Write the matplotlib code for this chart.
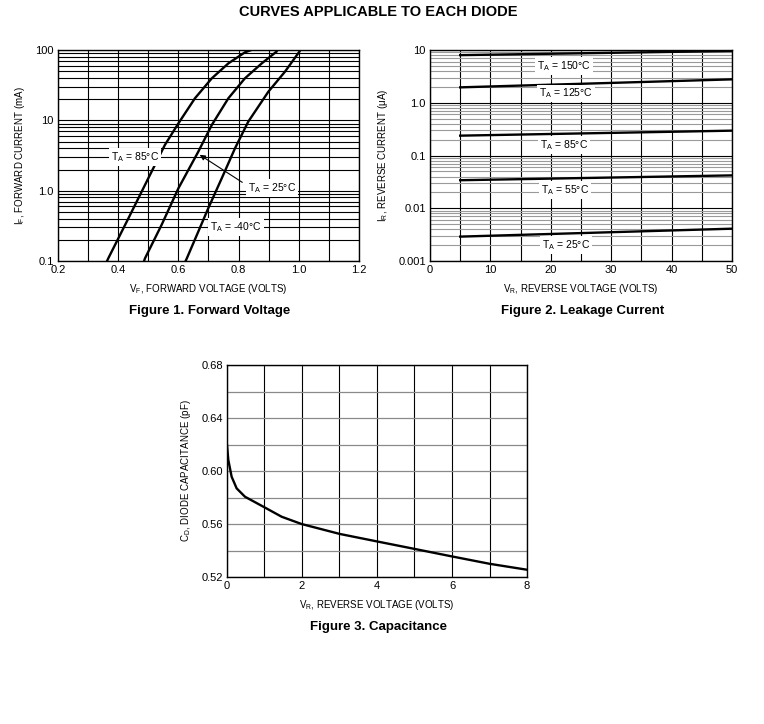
import numpy as np
import matplotlib
matplotlib.use("Agg")
import matplotlib.pyplot as plt
from matplotlib.ticker import LogLocator, NullFormatter, FixedLocator

plt.rcParams["font.family"] = ["Liberation Sans", "DejaVu Sans"]
plt.rcParams["mathtext.default"] = "regular"

# -----------------------------
# Figure 1 data: forward voltage (V) vs forward current (mA)
# -----------------------------
vf_85 = [0.363, 0.367, 0.434, 0.500, 0.555, 0.600, 0.655, 0.711, 0.766, 0.821, 0.842]
if_85 = [0.1, 0.109, 0.405, 1.50, 4.46, 9.06, 20.6, 39.6, 64.6, 92.7, 100.0]

vf_25 = [0.486, 0.489, 0.544, 0.600, 0.666, 0.711, 0.766, 0.821, 0.877, 0.926]
if_25 = [0.1, 0.109, 0.325, 1.08, 3.58, 8.6, 20.6, 39.6, 64.6, 95.0]

vf_m40 = [0.624, 0.628, 0.666, 0.699, 0.744, 0.788, 0.832, 0.899, 0.954, 1.002]
if_m40 = [0.1, 0.109, 0.261, 0.56, 1.50, 4.0, 9.57, 25.6, 49.2, 95.0]

# -----------------------------
# Figure 2 data: reverse voltage (V) vs reverse current (uA)
# -----------------------------
vr_leak = [5, 50]
ir_150 = [8.0, 9.6]
ir_125 = [1.96, 2.78]
ir_85 = [0.238, 0.296]
ir_55 = [0.034, 0.042]
ir_25 = [0.0029, 0.0041]

# -----------------------------
# Figure 3 data: reverse voltage (V) vs capacitance (pF)
# -----------------------------
vr_cap = [0.0, 0.036, 0.124, 0.258, 0.48, 0.968, 1.458, 1.99, 3.01, 4.03, 4.97, 5.99, 7.0, 8.0]
cd_cap = [0.6196, 0.6083, 0.5957, 0.5869, 0.5806, 0.5731, 0.5655, 0.560, 0.5525,
          0.5467, 0.5414, 0.5356, 0.530, 0.5255]

TICK_FS = 8
LAB_FS = 7.0
BOX_FS = 7.5
CAP_FS = 9.5
LW = 1.7

fig = plt.figure(figsize=(7.64, 7.24), dpi=100)

fig.text(0.495, 0.983, "CURVES APPLICABLE TO EACH DIODE", ha="center", va="center",
         fontsize=10.5, fontweight="bold")


def style_axes(ax):
    for s in ax.spines.values():
        s.set_linewidth(1.0)
        s.set_color("black")
    ax.tick_params(which="both", length=0, labelsize=TICK_FS, pad=3)
    ax.set_axisbelow(True)


label_box = dict(fc="white", ec="none", pad=1.5)

# -----------------------------
# Figure 1
# -----------------------------
ax1 = fig.add_axes([0.0759, 0.6395, 0.394, 0.2914])
ax1.set_yscale("log")
ax1.set_xlim(0.2, 1.2)
ax1.set_ylim(0.1, 100)
ax1.xaxis.set_major_locator(FixedLocator([0.2, 0.4, 0.6, 0.8, 1.0, 1.2]))
ax1.xaxis.set_minor_locator(FixedLocator([0.3, 0.5, 0.7, 0.9, 1.1]))
ax1.yaxis.set_major_locator(FixedLocator([0.1, 1, 10, 100]))
ax1.yaxis.set_minor_locator(LogLocator(base=10, subs=np.arange(2, 10)))
ax1.yaxis.set_minor_formatter(NullFormatter())
ax1.set_yticklabels(["0.1", "1.0", "10", "100"])
ax1.set_xticklabels(["0.2", "0.4", "0.6", "0.8", "1.0", "1.2"])
ax1.grid(which="both", color="black", linewidth=0.8)
style_axes(ax1)

ax1.plot(vf_85, if_85, color="black", lw=LW)
ax1.plot(vf_25, if_25, color="black", lw=LW)
ax1.plot(vf_m40, if_m40, color="black", lw=LW)

ax1.text(0.456, 3.0, r"T$_A$ = 85°C", fontsize=BOX_FS, ha="center", va="center", bbox=label_box)
ax1.text(0.911, 1.1, r"T$_A$ = 25°C", fontsize=BOX_FS, ha="center", va="center", bbox=label_box)
ax1.text(0.791, 0.3, r"T$_A$ = -40°C", fontsize=BOX_FS, ha="center", va="center", bbox=label_box)
ax1.annotate("", xy=(0.663, 3.4), xytext=(0.82, 1.25),
             arrowprops=dict(arrowstyle="-|>", color="black", lw=0.8, mutation_scale=8))

ax1.set_xlabel(r"V$_F$, FORWARD VOLTAGE (VOLTS)", fontsize=LAB_FS, labelpad=5)
ax1.set_ylabel(r"I$_F$, FORWARD CURRENT (mA)", fontsize=LAB_FS, labelpad=6)
fig.text(0.275, 0.570, "Figure 1. Forward Voltage", ha="center", va="center",
         fontsize=CAP_FS, fontweight="bold")

# -----------------------------
# Figure 2
# -----------------------------
ax2 = fig.add_axes([0.5628, 0.6395, 0.3953, 0.2914])
ax2.set_yscale("log")
ax2.set_xlim(0, 50)
ax2.set_ylim(0.001, 10)
ax2.xaxis.set_major_locator(FixedLocator([0, 10, 20, 30, 40, 50]))
ax2.xaxis.set_minor_locator(FixedLocator([5, 15, 25, 35, 45]))
ax2.yaxis.set_major_locator(FixedLocator([0.001, 0.01, 0.1, 1, 10]))
ax2.yaxis.set_minor_locator(LogLocator(base=10, subs=np.arange(2, 10)))
ax2.yaxis.set_minor_formatter(NullFormatter())
ax2.set_yticklabels(["0.001", "0.01", "0.1", "1.0", "10"])
ax2.grid(which="major", color="black", linewidth=0.8)
ax2.grid(which="minor", axis="y", color="#9a9a9a", linewidth=0.8)
ax2.grid(which="minor", axis="x", color="black", linewidth=0.8)
style_axes(ax2)

for ir in [ir_150, ir_125, ir_85, ir_55, ir_25]:
    ax2.plot(vr_leak, ir, color="black", lw=LW)

ax2.text(22.2, 5.0, r"T$_A$ = 150°C", fontsize=BOX_FS, ha="center", va="center", bbox=label_box)
ax2.text(22.5, 1.5, r"T$_A$ = 125°C", fontsize=BOX_FS, ha="center", va="center", bbox=label_box)
ax2.text(22.2, 0.16, r"T$_A$ = 85°C", fontsize=BOX_FS, ha="center", va="center", bbox=label_box)
ax2.text(22.4, 0.022, r"T$_A$ = 55°C", fontsize=BOX_FS, ha="center", va="center", bbox=label_box)
ax2.text(22.5, 0.0020, r"T$_A$ = 25°C", fontsize=BOX_FS, ha="center", va="center", bbox=label_box)

ax2.set_xlabel(r"V$_R$, REVERSE VOLTAGE (VOLTS)", fontsize=LAB_FS, labelpad=5)
ax2.set_ylabel(r"I$_R$, REVERSE CURRENT ($\mu$A)", fontsize=LAB_FS, labelpad=6)
fig.text(0.763, 0.570, "Figure 2. Leakage Current", ha="center", va="center",
         fontsize=CAP_FS, fontweight="bold")

# -----------------------------
# Figure 3
# -----------------------------
ax3 = fig.add_axes([0.2971, 0.2030, 0.3927, 0.2928])
ax3.set_xlim(0, 8)
ax3.set_ylim(0.52, 0.68)
ax3.xaxis.set_major_locator(FixedLocator([0, 2, 4, 6, 8]))
ax3.xaxis.set_minor_locator(FixedLocator([1, 3, 5, 7]))
ax3.yaxis.set_major_locator(FixedLocator([0.52, 0.56, 0.60, 0.64, 0.68]))
ax3.yaxis.set_minor_locator(FixedLocator([0.54, 0.58, 0.62, 0.66]))
ax3.set_yticklabels(["0.52", "0.56", "0.60", "0.64", "0.68"])
ax3.grid(which="both", axis="x", color="black", linewidth=0.8)
ax3.grid(which="both", axis="y", color="#8a8a8a", linewidth=0.9)
style_axes(ax3)

ax3.plot(vr_cap, cd_cap, color="black", lw=LW)

ax3.set_xlabel(r"V$_R$, REVERSE VOLTAGE (VOLTS)", fontsize=LAB_FS, labelpad=5)
ax3.set_ylabel(r"C$_D$, DIODE CAPACITANCE (pF)", fontsize=LAB_FS, labelpad=6)
fig.text(0.495, 0.134, "Figure 3. Capacitance", ha="center", va="center",
         fontsize=CAP_FS, fontweight="bold")

fig.savefig("out.png", dpi=100)
